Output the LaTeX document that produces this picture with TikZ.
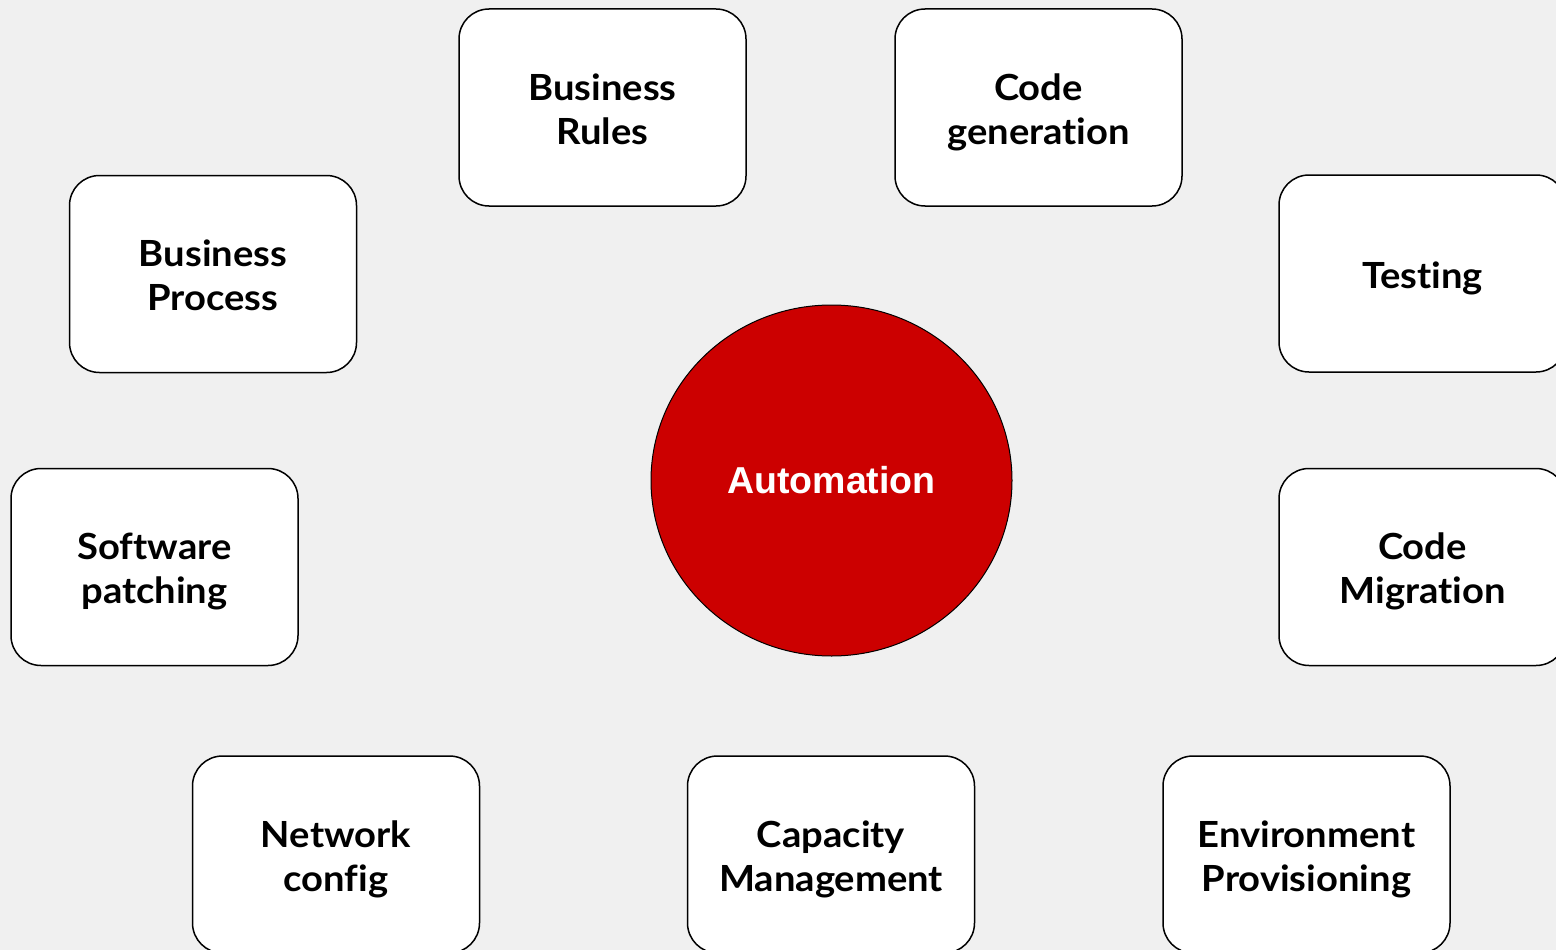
\documentclass[tikz,border=0pt]{standalone}
\usepackage{fontspec}
\newfontfamily\latofamily[Ligatures=NoCommon, FakeStretch=1.06]{Lato}
\newfontfamily\arialfamily{Liberation Sans}
\newcommand*{\boxfont}{\latofamily\bfseries\fontsize{36}{44}\selectfont}
\newcommand*{\hubfont}{\arialfamily\bfseries\fontsize{37.5}{44}\selectfont}
\newcommand*{\lstrut}{\rule[-7.5pt]{0pt}{44pt}}
\definecolor{canvas}{HTML}{F0F0F0}
\definecolor{hubred}{HTML}{CC0000}
\usepackage{tikz}
\usetikzlibrary{positioning}
\usetikzlibrary{shapes.geometric}
\tikzstyle{base}=[inner sep=0pt, outer sep=0pt, x=1pt, y=-1pt]
\tikzstyle{task}=[draw=black, fill=white, line width=1.5pt, rounded corners=30pt,
    minimum width=287pt, minimum height=197pt, align=center, font=\boxfont]
\tikzstyle{hub}=[ellipse, draw=black, fill=hubred, line width=1pt,
    minimum width=361pt, minimum height=351pt, text=white, font=\hubfont]

\begin{document}
\begin{tikzpicture}[base]
    \fill [canvas] (0,0) rectangle (1556,950);
    \path [use as bounding box] (0,0) rectangle (1556,950);
        \node [hub] (automation) at (831.5,480.5) {Automation};
        \node [task] (rules) at (602.5,107.5) {\lstrut Business\\\lstrut Rules};
        \node [task] (codegen) at (1038.5,107.5) {\lstrut Code\\\lstrut generation};
        \node [task] (process) at (213,274) {\lstrut Business\\\lstrut Process};
        \node [task] (testing) at (1422.5,273.5) {\lstrut Testing};
        \node [task] (patching) at (154.5,567) {\lstrut Software\\\lstrut patching};
        \node [task] (migration) at (1422.5,567) {\lstrut Code\\\lstrut Migration};
        \node [task] (network) at (336,854.5) {\lstrut Network\\\lstrut config};
        \node [task] (capacity) at (831,854.5) {\lstrut Capacity\\\lstrut Management};
        \node [task] (environment) at (1306.5,854.5) {\lstrut Environment\\\lstrut Provisioning};
    \end{tikzpicture}
\end{document}
